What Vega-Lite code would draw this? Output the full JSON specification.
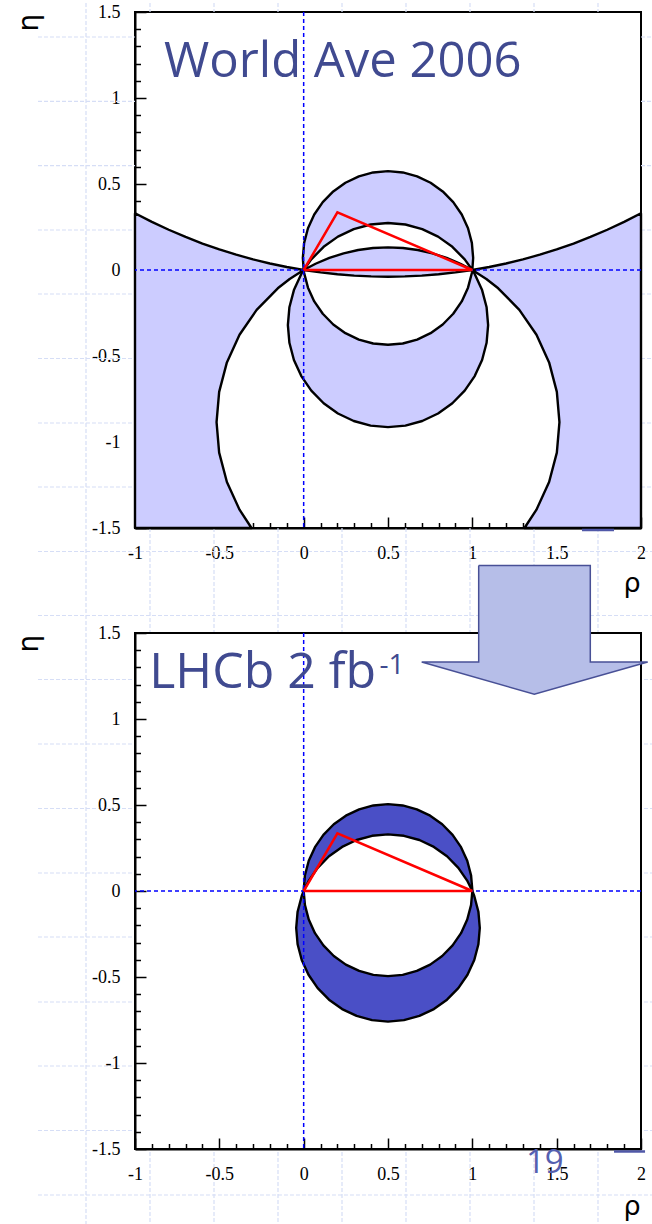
{
  "$schema": "https://vega.github.io/schema/vega-lite/v6.json",
  "background": "white",
  "padding": {"left": 14, "top": 1, "right": 0, "bottom": 0},
  "autosize": {"type": "pad"},
  "spacing": 105,
  "bounds": "flush",
  "config": {
    "view": {"stroke": "black", "strokeWidth": 2, "fill": "white"},
    "axis": {
      "grid": false, "zindex": 1,
      "tickColor": "black", "tickWidth": 1.5,
      "domainColor": "black", "domainWidth": 2,
      "labelFont": "Liberation Serif", "labelFontSize": 18, "labelColor": "black",
      "labelFlush": false, "labelOverlap": false,
      "titleFont": "DejaVu Sans", "titleFontWeight": "normal", "titleColor": "black"
    }
  },
  "datasets": {
    "slideGrid": [
      {"x1": -1.5751, "x2": -1, "y1": 1.3547, "y2": 1.3547},
      {"x1": 2, "x2": 2.0711, "y1": 1.3547, "y2": 1.3547},
      {"x1": -1.5751, "x2": -1, "y1": 0.9808, "y2": 0.9808},
      {"x1": 2, "x2": 2.0711, "y1": 0.9808, "y2": 0.9808},
      {"x1": -1.5751, "x2": -1, "y1": 0.607, "y2": 0.607},
      {"x1": 2, "x2": 2.0711, "y1": 0.607, "y2": 0.607},
      {"x1": -1.5751, "x2": -1, "y1": 0.2326, "y2": 0.2326},
      {"x1": 2, "x2": 2.0711, "y1": 0.2326, "y2": 0.2326},
      {"x1": -1.5751, "x2": -1, "y1": -0.1395, "y2": -0.1395},
      {"x1": 2, "x2": 2.0711, "y1": -0.1395, "y2": -0.1395},
      {"x1": -1.5751, "x2": -1, "y1": -0.5145, "y2": -0.5145},
      {"x1": 2, "x2": 2.0711, "y1": -0.5145, "y2": -0.5145},
      {"x1": -1.5751, "x2": -1, "y1": -0.8895, "y2": -0.8895},
      {"x1": 2, "x2": 2.0711, "y1": -0.8895, "y2": -0.8895},
      {"x1": -1.5751, "x2": -1, "y1": -1.2616, "y2": -1.2616},
      {"x1": 2, "x2": 2.0711, "y1": -1.2616, "y2": -1.2616},
      {"x1": -1.5751, "x2": 2.0711, "y1": -1.6366, "y2": -1.6366},
      {"x1": -1.5751, "x2": 2.0711, "y1": -2.0087, "y2": -2.0087},
      {"x1": -1.5751, "x2": 2.0711, "y1": -2.3808, "y2": -2.3808},
      {"x1": -1.5751, "x2": 2.0711, "y1": -2.7558, "y2": -2.7558},
      {"x1": -1.5751, "x2": 2.0711, "y1": -3.1308, "y2": -3.1308},
      {"x1": -1.5751, "x2": 2.0711, "y1": -3.5058, "y2": -3.5058},
      {"x1": -1.5751, "x2": 2.0711, "y1": -3.8779, "y2": -3.8779},
      {"x1": -1.5751, "x2": 2.0711, "y1": -4.2558, "y2": -4.2558},
      {"x1": -1.5751, "x2": 2.0711, "y1": -4.6279, "y2": -4.6279},
      {"x1": -1.5751, "x2": 2.0711, "y1": -5.0029, "y2": -5.0029},
      {"x1": -1.5751, "x2": 2.0711, "y1": -5.3779, "y2": -5.3779},
      {"x1": -1.2905, "x2": -1.2905, "y1": 1.5523, "y2": -5.5581},
      {"x1": -0.9111, "x2": -0.9111, "y1": 1.5523, "y2": 1.5},
      {"x1": -0.9111, "x2": -0.9111, "y1": -1.5, "y2": -5.5581},
      {"x1": -0.5316, "x2": -0.5316, "y1": 1.5523, "y2": 1.5},
      {"x1": -0.5316, "x2": -0.5316, "y1": -1.5, "y2": -5.5581},
      {"x1": -0.1522, "x2": -0.1522, "y1": 1.5523, "y2": 1.5},
      {"x1": -0.1522, "x2": -0.1522, "y1": -1.5, "y2": -5.5581},
      {"x1": 0.2273, "x2": 0.2273, "y1": 1.5523, "y2": 1.5},
      {"x1": 0.2273, "x2": 0.2273, "y1": -1.5, "y2": -5.5581},
      {"x1": 0.6067, "x2": 0.6067, "y1": 1.5523, "y2": 1.5},
      {"x1": 0.6067, "x2": 0.6067, "y1": -1.5, "y2": -5.5581},
      {"x1": 0.9861, "x2": 0.9861, "y1": 1.5523, "y2": 1.5},
      {"x1": 0.9861, "x2": 0.9861, "y1": -1.5, "y2": -5.5581},
      {"x1": 1.3656, "x2": 1.3656, "y1": 1.5523, "y2": 1.5},
      {"x1": 1.3656, "x2": 1.3656, "y1": -1.5, "y2": -5.5581},
      {"x1": 1.745, "x2": 1.745, "y1": 1.5523, "y2": 1.5},
      {"x1": 1.745, "x2": 1.745, "y1": -1.5, "y2": -5.5581}
    ],
    "worldAve": [
      {"region": "upper", "i": 0, "rho": 1, "eta": 0},
      {"region": "upper", "i": 1, "rho": 1.00488, "eta": 0.07},
      {"region": "upper", "i": 2, "rho": 0.99721, "eta": 0.15767},
      {"region": "upper", "i": 3, "rho": 0.97443, "eta": 0.24268},
      {"region": "upper", "i": 4, "rho": 0.93724, "eta": 0.32244},
      {"region": "upper", "i": 5, "rho": 0.88676, "eta": 0.39453},
      {"region": "upper", "i": 6, "rho": 0.82453, "eta": 0.45676},
      {"region": "upper", "i": 7, "rho": 0.75244, "eta": 0.50724},
      {"region": "upper", "i": 8, "rho": 0.67268, "eta": 0.54443},
      {"region": "upper", "i": 9, "rho": 0.58767, "eta": 0.56721},
      {"region": "upper", "i": 10, "rho": 0.5, "eta": 0.57488},
      {"region": "upper", "i": 11, "rho": 0.41233, "eta": 0.56721},
      {"region": "upper", "i": 12, "rho": 0.32732, "eta": 0.54443},
      {"region": "upper", "i": 13, "rho": 0.24756, "eta": 0.50724},
      {"region": "upper", "i": 14, "rho": 0.17547, "eta": 0.45676},
      {"region": "upper", "i": 15, "rho": 0.11324, "eta": 0.39453},
      {"region": "upper", "i": 16, "rho": 0.06276, "eta": 0.32244},
      {"region": "upper", "i": 17, "rho": 0.02557, "eta": 0.24268},
      {"region": "upper", "i": 18, "rho": 0.00279, "eta": 0.15767},
      {"region": "upper", "i": 19, "rho": -0.00488, "eta": 0.07},
      {"region": "upper", "i": 20, "rho": 0, "eta": 0},
      {"region": "upper", "i": 21, "rho": 0.04525, "eta": 0.06158},
      {"region": "upper", "i": 22, "rho": 0.11842, "eta": 0.13475},
      {"region": "upper", "i": 23, "rho": 0.20318, "eta": 0.1941},
      {"region": "upper", "i": 24, "rho": 0.29697, "eta": 0.23783},
      {"region": "upper", "i": 25, "rho": 0.39692, "eta": 0.26461},
      {"region": "upper", "i": 26, "rho": 0.5, "eta": 0.27363},
      {"region": "upper", "i": 27, "rho": 0.60308, "eta": 0.26461},
      {"region": "upper", "i": 28, "rho": 0.70303, "eta": 0.23783},
      {"region": "upper", "i": 29, "rho": 0.79682, "eta": 0.1941},
      {"region": "upper", "i": 30, "rho": 0.88158, "eta": 0.13475},
      {"region": "upper", "i": 31, "rho": 0.95475, "eta": 0.06158},
      {"region": "upper", "i": 32, "rho": 1, "eta": 0},

      {"region": "lens", "i": 0, "rho": 0, "eta": 0},
      {"region": "lens", "i": 1, "rho": 0.07042, "eta": 0.03624},
      {"region": "lens", "i": 2, "rho": 0.15234, "eta": 0.07018},
      {"region": "lens", "i": 3, "rho": 0.23691, "eta": 0.09685},
      {"region": "lens", "i": 4, "rho": 0.32349, "eta": 0.11604},
      {"region": "lens", "i": 5, "rho": 0.4114, "eta": 0.12761},
      {"region": "lens", "i": 6, "rho": 0.5, "eta": 0.13148},
      {"region": "lens", "i": 7, "rho": 0.5886, "eta": 0.12761},
      {"region": "lens", "i": 8, "rho": 0.67651, "eta": 0.11604},
      {"region": "lens", "i": 9, "rho": 0.76309, "eta": 0.09685},
      {"region": "lens", "i": 10, "rho": 0.84766, "eta": 0.07018},
      {"region": "lens", "i": 11, "rho": 0.92958, "eta": 0.03624},
      {"region": "lens", "i": 12, "rho": 1, "eta": 0},
      {"region": "lens", "i": 13, "rho": 0.9, "eta": -0.01405},
      {"region": "lens", "i": 14, "rho": 0.8, "eta": -0.02494},
      {"region": "lens", "i": 15, "rho": 0.7, "eta": -0.0327},
      {"region": "lens", "i": 16, "rho": 0.6, "eta": -0.03734},
      {"region": "lens", "i": 17, "rho": 0.5, "eta": -0.03889},
      {"region": "lens", "i": 18, "rho": 0.4, "eta": -0.03734},
      {"region": "lens", "i": 19, "rho": 0.3, "eta": -0.0327},
      {"region": "lens", "i": 20, "rho": 0.2, "eta": -0.02494},
      {"region": "lens", "i": 21, "rho": 0.1, "eta": -0.01405},
      {"region": "lens", "i": 22, "rho": 0, "eta": 0},

      {"region": "lower", "i": 0, "rho": 0, "eta": 0},
      {"region": "lower", "i": 1, "rho": -0.0141, "eta": -0.02318},
      {"region": "lower", "i": 2, "rho": -0.05783, "eta": -0.11697},
      {"region": "lower", "i": 3, "rho": -0.08461, "eta": -0.21692},
      {"region": "lower", "i": 4, "rho": -0.09363, "eta": -0.32},
      {"region": "lower", "i": 5, "rho": -0.08461, "eta": -0.42308},
      {"region": "lower", "i": 6, "rho": -0.05783, "eta": -0.52303},
      {"region": "lower", "i": 7, "rho": -0.0141, "eta": -0.61682},
      {"region": "lower", "i": 8, "rho": 0.04525, "eta": -0.70158},
      {"region": "lower", "i": 9, "rho": 0.11842, "eta": -0.77475},
      {"region": "lower", "i": 10, "rho": 0.20318, "eta": -0.8341},
      {"region": "lower", "i": 11, "rho": 0.29697, "eta": -0.87783},
      {"region": "lower", "i": 12, "rho": 0.39692, "eta": -0.90461},
      {"region": "lower", "i": 13, "rho": 0.5, "eta": -0.91363},
      {"region": "lower", "i": 14, "rho": 0.60308, "eta": -0.90461},
      {"region": "lower", "i": 15, "rho": 0.70303, "eta": -0.87783},
      {"region": "lower", "i": 16, "rho": 0.79682, "eta": -0.8341},
      {"region": "lower", "i": 17, "rho": 0.88158, "eta": -0.77475},
      {"region": "lower", "i": 18, "rho": 0.95475, "eta": -0.70158},
      {"region": "lower", "i": 19, "rho": 1.0141, "eta": -0.61682},
      {"region": "lower", "i": 20, "rho": 1.05783, "eta": -0.52303},
      {"region": "lower", "i": 21, "rho": 1.08461, "eta": -0.42308},
      {"region": "lower", "i": 22, "rho": 1.09363, "eta": -0.32},
      {"region": "lower", "i": 23, "rho": 1.08461, "eta": -0.21692},
      {"region": "lower", "i": 24, "rho": 1.05783, "eta": -0.11697},
      {"region": "lower", "i": 25, "rho": 1.0141, "eta": -0.02318},
      {"region": "lower", "i": 26, "rho": 1, "eta": 0},
      {"region": "lower", "i": 27, "rho": 0.99721, "eta": -0.01767},
      {"region": "lower", "i": 28, "rho": 0.97443, "eta": -0.10268},
      {"region": "lower", "i": 29, "rho": 0.93724, "eta": -0.18244},
      {"region": "lower", "i": 30, "rho": 0.88676, "eta": -0.25453},
      {"region": "lower", "i": 31, "rho": 0.82453, "eta": -0.31676},
      {"region": "lower", "i": 32, "rho": 0.75244, "eta": -0.36724},
      {"region": "lower", "i": 33, "rho": 0.67268, "eta": -0.40443},
      {"region": "lower", "i": 34, "rho": 0.58767, "eta": -0.42721},
      {"region": "lower", "i": 35, "rho": 0.5, "eta": -0.43488},
      {"region": "lower", "i": 36, "rho": 0.41233, "eta": -0.42721},
      {"region": "lower", "i": 37, "rho": 0.32732, "eta": -0.40443},
      {"region": "lower", "i": 38, "rho": 0.24756, "eta": -0.36724},
      {"region": "lower", "i": 39, "rho": 0.17547, "eta": -0.31676},
      {"region": "lower", "i": 40, "rho": 0.11324, "eta": -0.25453},
      {"region": "lower", "i": 41, "rho": 0.06276, "eta": -0.18244},
      {"region": "lower", "i": 42, "rho": 0.02557, "eta": -0.10268},
      {"region": "lower", "i": 43, "rho": 0.00279, "eta": -0.01767},
      {"region": "lower", "i": 44, "rho": 0, "eta": 0},

      {"region": "wedgeLeft", "i": 0, "rho": -1, "eta": 0.33003},
      {"region": "wedgeLeft", "i": 1, "rho": -0.9, "eta": 0.27986},
      {"region": "wedgeLeft", "i": 2, "rho": -0.8, "eta": 0.23391},
      {"region": "wedgeLeft", "i": 3, "rho": -0.7, "eta": 0.192},
      {"region": "wedgeLeft", "i": 4, "rho": -0.6, "eta": 0.15394},
      {"region": "wedgeLeft", "i": 5, "rho": -0.5, "eta": 0.11961},
      {"region": "wedgeLeft", "i": 6, "rho": -0.4, "eta": 0.08887},
      {"region": "wedgeLeft", "i": 7, "rho": -0.3, "eta": 0.06163},
      {"region": "wedgeLeft", "i": 8, "rho": -0.2, "eta": 0.03778},
      {"region": "wedgeLeft", "i": 9, "rho": -0.1, "eta": 0.01726},
      {"region": "wedgeLeft", "i": 10, "rho": 0, "eta": 0},
      {"region": "wedgeLeft", "i": 11, "rho": -0.08303, "eta": -0.05235},
      {"region": "wedgeLeft", "i": 12, "rho": -0.15338, "eta": -0.10633},
      {"region": "wedgeLeft", "i": 13, "rho": -0.27866, "eta": -0.23162},
      {"region": "wedgeLeft", "i": 14, "rho": -0.3803, "eta": -0.37676},
      {"region": "wedgeLeft", "i": 15, "rho": -0.45518, "eta": -0.53734},
      {"region": "wedgeLeft", "i": 16, "rho": -0.50104, "eta": -0.70849},
      {"region": "wedgeLeft", "i": 17, "rho": -0.51648, "eta": -0.885},
      {"region": "wedgeLeft", "i": 18, "rho": -0.50104, "eta": -1.06151},
      {"region": "wedgeLeft", "i": 19, "rho": -0.45518, "eta": -1.23266},
      {"region": "wedgeLeft", "i": 20, "rho": -0.3803, "eta": -1.39324},
      {"region": "wedgeLeft", "i": 21, "rho": -0.3093, "eta": -1.5},
      {"region": "wedgeLeft", "i": 22, "rho": -1, "eta": -1.5},
      {"region": "wedgeLeft", "i": 23, "rho": -1, "eta": 0.33003},

      {"region": "wedgeRight", "i": 0, "rho": 2, "eta": 0.33003},
      {"region": "wedgeRight", "i": 1, "rho": 1.9, "eta": 0.27986},
      {"region": "wedgeRight", "i": 2, "rho": 1.8, "eta": 0.23391},
      {"region": "wedgeRight", "i": 3, "rho": 1.7, "eta": 0.192},
      {"region": "wedgeRight", "i": 4, "rho": 1.6, "eta": 0.15394},
      {"region": "wedgeRight", "i": 5, "rho": 1.5, "eta": 0.11961},
      {"region": "wedgeRight", "i": 6, "rho": 1.4, "eta": 0.08887},
      {"region": "wedgeRight", "i": 7, "rho": 1.3, "eta": 0.06163},
      {"region": "wedgeRight", "i": 8, "rho": 1.2, "eta": 0.03778},
      {"region": "wedgeRight", "i": 9, "rho": 1.1, "eta": 0.01726},
      {"region": "wedgeRight", "i": 10, "rho": 1, "eta": 0},
      {"region": "wedgeRight", "i": 11, "rho": 1.08303, "eta": -0.05235},
      {"region": "wedgeRight", "i": 12, "rho": 1.15338, "eta": -0.10633},
      {"region": "wedgeRight", "i": 13, "rho": 1.27866, "eta": -0.23162},
      {"region": "wedgeRight", "i": 14, "rho": 1.3803, "eta": -0.37676},
      {"region": "wedgeRight", "i": 15, "rho": 1.45518, "eta": -0.53734},
      {"region": "wedgeRight", "i": 16, "rho": 1.50104, "eta": -0.70849},
      {"region": "wedgeRight", "i": 17, "rho": 1.51648, "eta": -0.885},
      {"region": "wedgeRight", "i": 18, "rho": 1.50104, "eta": -1.06151},
      {"region": "wedgeRight", "i": 19, "rho": 1.45518, "eta": -1.23266},
      {"region": "wedgeRight", "i": 20, "rho": 1.3803, "eta": -1.39324},
      {"region": "wedgeRight", "i": 21, "rho": 1.3093, "eta": -1.5},
      {"region": "wedgeRight", "i": 22, "rho": 2, "eta": -1.5},
      {"region": "wedgeRight", "i": 23, "rho": 2, "eta": 0.33003}
    ],
    "lhcb": [
      {"region": "upper", "i": 0, "rho": 1, "eta": 0},
      {"region": "upper", "i": 1, "rho": 1, "eta": 0.005},
      {"region": "upper", "i": 2, "rho": 0.9924, "eta": 0.09182},
      {"region": "upper", "i": 3, "rho": 0.96985, "eta": 0.17601},
      {"region": "upper", "i": 4, "rho": 0.93301, "eta": 0.255},
      {"region": "upper", "i": 5, "rho": 0.88302, "eta": 0.32639},
      {"region": "upper", "i": 6, "rho": 0.82139, "eta": 0.38802},
      {"region": "upper", "i": 7, "rho": 0.75, "eta": 0.43801},
      {"region": "upper", "i": 8, "rho": 0.67101, "eta": 0.47485},
      {"region": "upper", "i": 9, "rho": 0.58682, "eta": 0.4974},
      {"region": "upper", "i": 10, "rho": 0.5, "eta": 0.505},
      {"region": "upper", "i": 11, "rho": 0.41318, "eta": 0.4974},
      {"region": "upper", "i": 12, "rho": 0.32899, "eta": 0.47485},
      {"region": "upper", "i": 13, "rho": 0.25, "eta": 0.43801},
      {"region": "upper", "i": 14, "rho": 0.17861, "eta": 0.38802},
      {"region": "upper", "i": 15, "rho": 0.11698, "eta": 0.32639},
      {"region": "upper", "i": 16, "rho": 0.06699, "eta": 0.255},
      {"region": "upper", "i": 17, "rho": 0.03015, "eta": 0.17601},
      {"region": "upper", "i": 18, "rho": 0.0076, "eta": 0.09182},
      {"region": "upper", "i": 19, "rho": 0, "eta": 0.005},
      {"region": "upper", "i": 20, "rho": 0, "eta": 0},
      {"region": "upper", "i": 21, "rho": 0.02865, "eta": 0.05713},
      {"region": "upper", "i": 22, "rho": 0.08308, "eta": 0.13484},
      {"region": "upper", "i": 23, "rho": 0.15016, "eta": 0.20192},
      {"region": "upper", "i": 24, "rho": 0.22787, "eta": 0.25635},
      {"region": "upper", "i": 25, "rho": 0.31385, "eta": 0.29644},
      {"region": "upper", "i": 26, "rho": 0.40549, "eta": 0.32099},
      {"region": "upper", "i": 27, "rho": 0.5, "eta": 0.32926},
      {"region": "upper", "i": 28, "rho": 0.59451, "eta": 0.32099},
      {"region": "upper", "i": 29, "rho": 0.68615, "eta": 0.29644},
      {"region": "upper", "i": 30, "rho": 0.77213, "eta": 0.25635},
      {"region": "upper", "i": 31, "rho": 0.84984, "eta": 0.20192},
      {"region": "upper", "i": 32, "rho": 0.91692, "eta": 0.13484},
      {"region": "upper", "i": 33, "rho": 0.97135, "eta": 0.05713},
      {"region": "upper", "i": 34, "rho": 1, "eta": 0},

      {"region": "lower", "i": 0, "rho": 0, "eta": 0},
      {"region": "lower", "i": 1, "rho": -0.01144, "eta": -0.02885},
      {"region": "lower", "i": 2, "rho": -0.03599, "eta": -0.12049},
      {"region": "lower", "i": 3, "rho": -0.04426, "eta": -0.215},
      {"region": "lower", "i": 4, "rho": -0.03599, "eta": -0.30951},
      {"region": "lower", "i": 5, "rho": -0.01144, "eta": -0.40115},
      {"region": "lower", "i": 6, "rho": 0.02865, "eta": -0.48713},
      {"region": "lower", "i": 7, "rho": 0.08308, "eta": -0.56484},
      {"region": "lower", "i": 8, "rho": 0.15016, "eta": -0.63192},
      {"region": "lower", "i": 9, "rho": 0.22787, "eta": -0.68635},
      {"region": "lower", "i": 10, "rho": 0.31385, "eta": -0.72644},
      {"region": "lower", "i": 11, "rho": 0.40549, "eta": -0.75099},
      {"region": "lower", "i": 12, "rho": 0.5, "eta": -0.75926},
      {"region": "lower", "i": 13, "rho": 0.59451, "eta": -0.75099},
      {"region": "lower", "i": 14, "rho": 0.68615, "eta": -0.72644},
      {"region": "lower", "i": 15, "rho": 0.77213, "eta": -0.68635},
      {"region": "lower", "i": 16, "rho": 0.84984, "eta": -0.63192},
      {"region": "lower", "i": 17, "rho": 0.91692, "eta": -0.56484},
      {"region": "lower", "i": 18, "rho": 0.97135, "eta": -0.48713},
      {"region": "lower", "i": 19, "rho": 1.01144, "eta": -0.40115},
      {"region": "lower", "i": 20, "rho": 1.03599, "eta": -0.30951},
      {"region": "lower", "i": 21, "rho": 1.04426, "eta": -0.215},
      {"region": "lower", "i": 22, "rho": 1.03599, "eta": -0.12049},
      {"region": "lower", "i": 23, "rho": 1.01144, "eta": -0.02885},
      {"region": "lower", "i": 24, "rho": 1, "eta": 0},
      {"region": "lower", "i": 25, "rho": 0.9924, "eta": -0.08182},
      {"region": "lower", "i": 26, "rho": 0.96985, "eta": -0.16601},
      {"region": "lower", "i": 27, "rho": 0.93301, "eta": -0.245},
      {"region": "lower", "i": 28, "rho": 0.88302, "eta": -0.31639},
      {"region": "lower", "i": 29, "rho": 0.82139, "eta": -0.37802},
      {"region": "lower", "i": 30, "rho": 0.75, "eta": -0.42801},
      {"region": "lower", "i": 31, "rho": 0.67101, "eta": -0.46485},
      {"region": "lower", "i": 32, "rho": 0.58682, "eta": -0.4874},
      {"region": "lower", "i": 33, "rho": 0.5, "eta": -0.495},
      {"region": "lower", "i": 34, "rho": 0.41318, "eta": -0.4874},
      {"region": "lower", "i": 35, "rho": 0.32899, "eta": -0.46485},
      {"region": "lower", "i": 36, "rho": 0.25, "eta": -0.42801},
      {"region": "lower", "i": 37, "rho": 0.17861, "eta": -0.37802},
      {"region": "lower", "i": 38, "rho": 0.11698, "eta": -0.31639},
      {"region": "lower", "i": 39, "rho": 0.06699, "eta": -0.245},
      {"region": "lower", "i": 40, "rho": 0.03015, "eta": -0.16601},
      {"region": "lower", "i": 41, "rho": 0.0076, "eta": -0.08182},
      {"region": "lower", "i": 42, "rho": 0, "eta": 0}
    ],
    "triangle": [
      {"i": 0, "rho": 0, "eta": 0},
      {"i": 1, "rho": 0.2, "eta": 0.335},
      {"i": 2, "rho": 1, "eta": 0},
      {"i": 3, "rho": 0, "eta": 0}
    ],
    "arrow": [
      {"i": 0, "rho": 1.0377, "eta": 1.8924},
      {"i": 1, "rho": 1.6994, "eta": 1.8924},
      {"i": 2, "rho": 1.6994, "eta": 1.3314},
      {"i": 3, "rho": 2.0397, "eta": 1.3314},
      {"i": 4, "rho": 1.3674, "eta": 1.1442},
      {"i": 5, "rho": 0.6998, "eta": 1.3314},
      {"i": 6, "rho": 1.0377, "eta": 1.3314},
      {"i": 7, "rho": 1.0377, "eta": 1.8924}
    ]
  },
  "vconcat": [
    {
      "width": 506,
      "height": 516,
      "resolve": {"axis": {"x": "independent", "y": "independent"}},
      "layer": [
        {
          "data": {"name": "slideGrid"},
          "mark": {"type": "rule", "color": "#d6def6", "strokeWidth": 1.2, "strokeDash": [4, 2]},
          "encoding": {
            "x": {"field": "x1", "type": "quantitative", "scale": {"domain": [-1, 2], "nice": false, "zero": false}, "axis": null},
            "x2": {"field": "x2"},
            "y": {"field": "y1", "type": "quantitative", "scale": {"domain": [-1.5, 1.5], "nice": false, "zero": false}, "axis": null},
            "y2": {"field": "y2"}
          }
        },
        {
          "data": {"name": "worldAve"},
          "mark": {"type": "line", "fill": "#ccccff", "stroke": "black", "strokeWidth": 2.4, "strokeJoin": "round"},
          "encoding": {
            "x": {
              "field": "rho", "type": "quantitative",
              "scale": {"domain": [-1, 2], "nice": false, "zero": false},
              "axis": {
                "orient": "bottom", "values": [-1, -0.5, 0, 0.5, 1, 1.5, 2],
                "labelExpr": "toString(datum.value)", "labelPadding": 27, "tickSize": -11,
                "title": "ρ", "titleFontSize": 27, "titleX": 496.5, "titleY": 63,
                "titleAlign": "center", "titleBaseline": "alphabetic", "titleAngle": 0
              }
            },
            "y": {
              "field": "eta", "type": "quantitative",
              "scale": {"domain": [-1.5, 1.5], "nice": false, "zero": false},
              "axis": {
                "orient": "left", "values": [-1.5, -1, -0.5, 0, 0.5, 1, 1.5],
                "labelExpr": "toString(datum.value)", "labelPadding": 26, "tickSize": -11,
                "title": "η", "titleFontSize": 28, "titleAngle": -90, "titleX": -98, "titleY": 10,
                "titleAlign": "center", "titleBaseline": "alphabetic"
              }
            },
            "detail": {"field": "region", "type": "nominal"},
            "order": {"field": "i", "type": "quantitative"}
          }
        },
        {
          "data": {"values": [{}]},
          "mark": {"type": "rule", "color": "#0000ff", "strokeDash": [4, 3], "strokeWidth": 1.5},
          "encoding": {
            "x": {
              "datum": 0, "type": "quantitative",
              "scale": {"domain": [-1, 2], "nice": false, "zero": false},
              "axis": {
                "orient": "bottom", "labels": false, "domain": false, "title": null, "tickSize": -5.5,
                "values": [-0.9, -0.8, -0.7, -0.6, -0.4, -0.3, -0.2, -0.1, 0.1, 0.2, 0.3, 0.4, 0.6, 0.7, 0.8, 0.9, 1.1, 1.2, 1.3, 1.4, 1.6, 1.7, 1.8, 1.9]
              }
            }
          }
        },
        {
          "data": {"values": [{}]},
          "mark": {"type": "rule", "color": "#0000ff", "strokeDash": [4, 3], "strokeWidth": 1.5},
          "encoding": {
            "y": {
              "datum": 0, "type": "quantitative",
              "scale": {"domain": [-1.5, 1.5], "nice": false, "zero": false},
              "axis": {
                "orient": "left", "labels": false, "domain": false, "title": null, "tickSize": -5.5,
                "values": [-1.4, -1.3, -1.2, -1.1, -0.9, -0.8, -0.7, -0.6, -0.4, -0.3, -0.2, -0.1, 0.1, 0.2, 0.3, 0.4, 0.6, 0.7, 0.8, 0.9, 1.1, 1.2, 1.3, 1.4]
              }
            }
          }
        },
        {
          "data": {"name": "triangle"},
          "mark": {"type": "line", "color": "#ff0000", "strokeWidth": 2.5, "strokeJoin": "miter"},
          "encoding": {
            "x": {"field": "rho", "type": "quantitative", "scale": {"domain": [-1, 2], "nice": false, "zero": false}, "axis": null},
            "y": {"field": "eta", "type": "quantitative", "scale": {"domain": [-1.5, 1.5], "nice": false, "zero": false}, "axis": null},
            "order": {"field": "i", "type": "quantitative"}
          }
        },
        {
          "data": {"values": [{}]},
          "mark": {"type": "rule", "color": "#5058a8", "strokeWidth": 2.5},
          "encoding": {
            "x": {"datum": 1.65, "type": "quantitative", "scale": {"domain": [-1, 2], "nice": false, "zero": false}, "axis": null},
            "x2": {"datum": 1.84},
            "y": {"datum": -1.5116, "type": "quantitative", "scale": {"domain": [-1.5, 1.5], "nice": false, "zero": false}, "axis": null}
          }
        },
        {
          "data": {"values": [{}]},
          "mark": {"type": "text", "text": "World Ave 2006", "font": "Open Sans", "fontSize": 49, "color": "#404a90", "align": "left", "baseline": "alphabetic"},
          "encoding": {
            "x": {"datum": -0.828, "type": "quantitative", "scale": {"domain": [-1, 2], "nice": false, "zero": false}, "axis": null},
            "y": {"datum": 1.122, "type": "quantitative", "scale": {"domain": [-1.5, 1.5], "nice": false, "zero": false}, "axis": null}
          }
        }
      ]
    },
    {
      "width": 506,
      "height": 516,
      "resolve": {"axis": {"x": "independent", "y": "independent"}},
      "layer": [
        {
          "data": {"name": "lhcb"},
          "mark": {"type": "line", "fill": "#4a4fc6", "stroke": "black", "strokeWidth": 2.4, "strokeJoin": "round"},
          "encoding": {
            "x": {
              "field": "rho", "type": "quantitative",
              "scale": {"domain": [-1, 2], "nice": false, "zero": false},
              "axis": {
                "orient": "bottom", "values": [-1, -0.5, 0, 0.5, 1, 1.5, 2],
                "labelExpr": "toString(datum.value)", "labelPadding": 27, "tickSize": -11,
                "title": "ρ", "titleFontSize": 27, "titleX": 496.5, "titleY": 65,
                "titleAlign": "center", "titleBaseline": "alphabetic", "titleAngle": 0
              }
            },
            "y": {
              "field": "eta", "type": "quantitative",
              "scale": {"domain": [-1.5, 1.5], "nice": false, "zero": false},
              "axis": {
                "orient": "left", "values": [-1.5, -1, -0.5, 0, 0.5, 1, 1.5],
                "labelExpr": "toString(datum.value)", "labelPadding": 26, "tickSize": -11,
                "title": "η", "titleFontSize": 28, "titleAngle": -90, "titleX": -98, "titleY": 10,
                "titleAlign": "center", "titleBaseline": "alphabetic"
              }
            },
            "detail": {"field": "region", "type": "nominal"},
            "order": {"field": "i", "type": "quantitative"}
          }
        },
        {
          "data": {"values": [{}]},
          "mark": {"type": "rule", "color": "#0000ff", "strokeDash": [4, 3], "strokeWidth": 1.5},
          "encoding": {
            "x": {
              "datum": 0, "type": "quantitative",
              "scale": {"domain": [-1, 2], "nice": false, "zero": false},
              "axis": {
                "orient": "bottom", "labels": false, "domain": false, "title": null, "tickSize": -5.5,
                "values": [-0.9, -0.8, -0.7, -0.6, -0.4, -0.3, -0.2, -0.1, 0.1, 0.2, 0.3, 0.4, 0.6, 0.7, 0.8, 0.9, 1.1, 1.2, 1.3, 1.4, 1.6, 1.7, 1.8, 1.9]
              }
            }
          }
        },
        {
          "data": {"values": [{}]},
          "mark": {"type": "rule", "color": "#0000ff", "strokeDash": [4, 3], "strokeWidth": 1.5},
          "encoding": {
            "y": {
              "datum": 0, "type": "quantitative",
              "scale": {"domain": [-1.5, 1.5], "nice": false, "zero": false},
              "axis": {
                "orient": "left", "labels": false, "domain": false, "title": null, "tickSize": -5.5,
                "values": [-1.4, -1.3, -1.2, -1.1, -0.9, -0.8, -0.7, -0.6, -0.4, -0.3, -0.2, -0.1, 0.1, 0.2, 0.3, 0.4, 0.6, 0.7, 0.8, 0.9, 1.1, 1.2, 1.3, 1.4]
              }
            }
          }
        },
        {
          "data": {"name": "triangle"},
          "mark": {"type": "line", "color": "#ff0000", "strokeWidth": 2.5, "strokeJoin": "miter"},
          "encoding": {
            "x": {"field": "rho", "type": "quantitative", "scale": {"domain": [-1, 2], "nice": false, "zero": false}, "axis": null},
            "y": {"field": "eta", "type": "quantitative", "scale": {"domain": [-1.5, 1.5], "nice": false, "zero": false}, "axis": null},
            "order": {"field": "i", "type": "quantitative"}
          }
        },
        {
          "data": {"values": [{}]},
          "mark": {"type": "text", "text": "19", "font": "Open Sans", "fontSize": 33, "color": "#5560b0", "align": "left", "baseline": "alphabetic"},
          "encoding": {
            "x": {"datum": 1.318, "type": "quantitative", "scale": {"domain": [-1, 2], "nice": false, "zero": false}, "axis": null},
            "y": {"datum": -1.642, "type": "quantitative", "scale": {"domain": [-1.5, 1.5], "nice": false, "zero": false}, "axis": null}
          }
        },
        {
          "data": {"values": [{}]},
          "mark": {"type": "rule", "color": "#5058a8", "strokeWidth": 2.5},
          "encoding": {
            "x": {"datum": 1.84, "type": "quantitative", "scale": {"domain": [-1, 2], "nice": false, "zero": false}, "axis": null},
            "x2": {"datum": 2.024},
            "y": {"datum": -1.5145, "type": "quantitative", "scale": {"domain": [-1.5, 1.5], "nice": false, "zero": false}, "axis": null}
          }
        },
        {
          "data": {"name": "arrow"},
          "mark": {"type": "line", "fill": "#b6bee8", "stroke": "#485096", "strokeWidth": 1.5, "strokeJoin": "miter"},
          "encoding": {
            "x": {"field": "rho", "type": "quantitative", "scale": {"domain": [-1, 2], "nice": false, "zero": false}, "axis": null},
            "y": {"field": "eta", "type": "quantitative", "scale": {"domain": [-1.5, 1.5], "nice": false, "zero": false}, "axis": null},
            "order": {"field": "i", "type": "quantitative"}
          }
        },
        {
          "data": {"values": [{}]},
          "mark": {"type": "text", "text": "LHCb 2 fb", "font": "Open Sans", "fontSize": 50, "color": "#404a90", "align": "left", "baseline": "alphabetic"},
          "encoding": {
            "x": {"datum": -0.916, "type": "quantitative", "scale": {"domain": [-1, 2], "nice": false, "zero": false}, "axis": null},
            "y": {"datum": 1.179, "type": "quantitative", "scale": {"domain": [-1.5, 1.5], "nice": false, "zero": false}, "axis": null}
          }
        },
        {
          "data": {"values": [{}]},
          "mark": {"type": "text", "text": "-1", "font": "Open Sans", "fontSize": 28, "color": "#404a90", "align": "left", "baseline": "alphabetic"},
          "encoding": {
            "x": {"datum": 0.45, "type": "quantitative", "scale": {"domain": [-1, 2], "nice": false, "zero": false}, "axis": null},
            "y": {"datum": 1.262, "type": "quantitative", "scale": {"domain": [-1.5, 1.5], "nice": false, "zero": false}, "axis": null}
          }
        }
      ]
    }
  ]
}
